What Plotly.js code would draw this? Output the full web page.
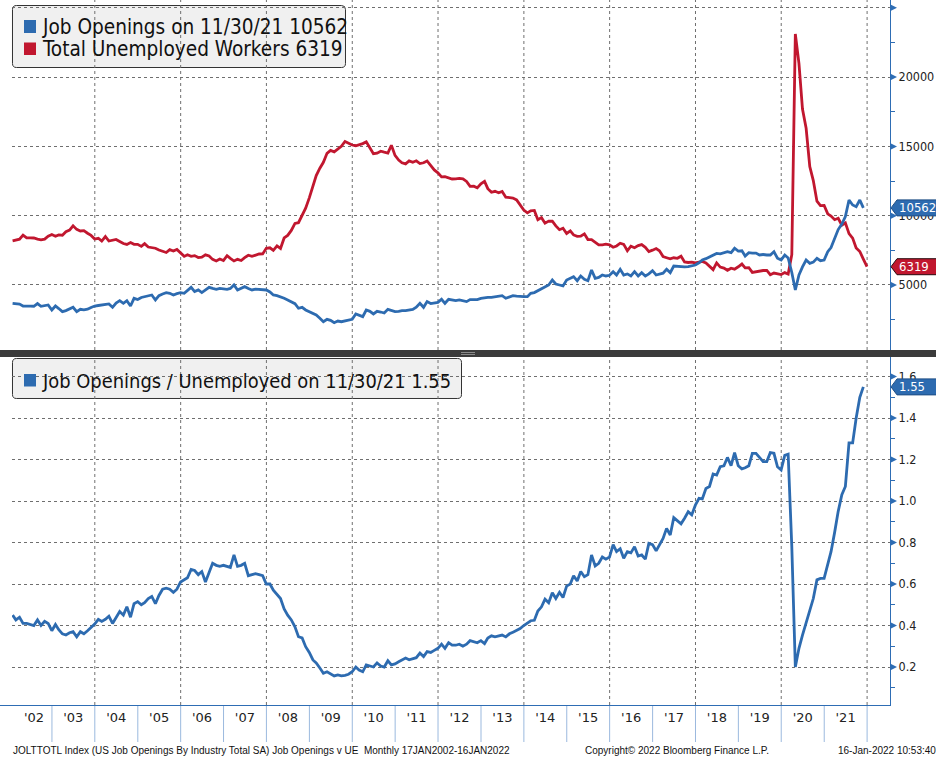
<!DOCTYPE html>
<html><head><meta charset="utf-8">
<script src="https://cdn.plot.ly/plotly-3.0.1.min.js"></script>
<style>html,body{margin:0;padding:0;background:#fff;overflow:hidden}#chart{width:936px;height:761px}</style>
</head><body><div id="chart"></div>
<script>
// ---------------- data (monthly, end of month) ----------------
const startYear = 2002;
const jobOpenings = [
3680,3660,3620,3485,3500,3480,3465,3660,3465,3520,3560,3195,
3485,3300,3075,3150,3250,3390,3075,3245,3200,3250,3380,3485,
3520,3560,3600,3630,3390,3700,3870,3680,3870,3485,4040,3950,
4100,4150,4230,4280,3920,4230,4350,4450,4400,4280,4380,4450,
4400,4600,4830,4520,4640,4450,4650,4830,4750,4690,4760,4700,
4690,4750,5000,4640,4750,4880,4750,4640,4700,4690,4650,4640,
4500,4280,4230,4150,4040,3920,3800,3650,3320,3390,3200,3075,
2950,2835,2600,2350,2525,2450,2280,2400,2350,2400,2450,2525,
2910,2800,2715,3195,3100,2910,3100,3050,2980,3245,3150,3075,
3100,3150,3150,3200,3245,3400,3680,3390,3800,3660,3700,3750,
3970,3680,3970,3900,3870,3920,3870,3800,3950,3970,3950,4040,
4080,4110,4100,4160,4200,4230,4040,4150,4230,4200,4160,4160,
4160,4400,4450,4600,4750,4900,5000,5360,5070,5000,4930,5360,
5500,5600,5310,5650,5410,5310,6080,5480,5550,5720,5650,5700,
5960,5720,6130,5720,5800,5650,5960,5650,5890,5650,5800,6030,
5720,5800,5850,6130,5890,6370,6330,6300,6300,6320,6380,6440,
6600,6800,6900,7040,7150,7280,7240,7350,7400,7330,7650,7450,
7470,7090,7330,7300,7300,7165,7200,7165,7165,7400,6930,6800,
7160,6950,5900,4640,5720,6300,6800,6560,6650,6930,6750,6800,
7400,7700,8370,9000,9400,9930,11130,10770,10650,11130,10562];

const unemployed = [
8182,8215,8304,8599,8399,8393,8390,8304,8251,8307,8520,8640,
8520,8618,8588,8842,8957,9266,9011,8896,8921,8732,8576,8317,
8370,8167,8491,8170,8212,8286,8136,7990,7927,8061,7932,7934,
7784,7980,7737,7672,7651,7524,7406,7345,7553,7453,7566,7279,
7064,7184,7072,7120,6980,7001,7175,7091,6847,6727,6872,6762,
7116,6927,6731,6850,6766,6979,7149,7067,7170,7237,7240,7645,
7685,7497,7822,7637,8395,8575,8937,9438,9494,10074,10538,11286,
12058,12898,13426,13853,14499,14707,14601,14814,15009,15352,15219,15098,
15046,15113,15202,15325,14849,14474,14512,14648,14579,14516,15081,14348,
14013,13820,13737,13957,13855,13962,13763,13818,13948,13594,13302,13093,
12797,12813,12713,12646,12660,12692,12656,12471,12115,12124,12005,12298,
12471,11950,11689,11760,11654,11751,11335,11279,11270,11136,10787,10404,
10202,10349,10380,9702,9859,9460,9608,9599,9262,8990,9090,8717,
8903,8610,8504,8526,8689,8275,8266,8044,7891,7898,7943,7899,
7722,7815,8011,7935,7469,7799,7689,7838,7911,7714,7410,7513,
7631,7468,7051,6968,6884,6964,6928,7075,6668,6625,6653,6588,
6667,6698,6594,6329,6110,6597,6294,6217,6060,6213,6142,6315,
6513,6231,6245,5908,5966,6040,6044,6054,5740,5864,5797,5753,
5892,5787,7185,23109,20975,17697,16308,13542,12535,11049,10728,10736,
10130,9972,9710,9812,9316,9484,8703,8384,7674,7418,6870,6319];

const ratio = [
0.45,0.427,0.44,0.41,0.41,0.405,0.40,0.427,0.40,0.42,0.41,0.375,
0.405,0.38,0.36,0.354,0.365,0.37,0.345,0.37,0.36,0.375,0.39,0.407,
0.43,0.42,0.43,0.445,0.41,0.44,0.467,0.45,0.49,0.44,0.505,0.515,
0.50,0.51,0.53,0.54,0.505,0.545,0.575,0.58,0.575,0.56,0.575,0.61,
0.62,0.63,0.67,0.665,0.645,0.66,0.61,0.66,0.70,0.69,0.685,0.69,
0.685,0.68,0.74,0.685,0.69,0.70,0.64,0.645,0.65,0.645,0.64,0.60,
0.60,0.57,0.547,0.53,0.48,0.45,0.427,0.394,0.346,0.34,0.298,0.27,
0.234,0.22,0.195,0.17,0.177,0.167,0.157,0.162,0.157,0.16,0.165,0.177,
0.20,0.185,0.177,0.21,0.205,0.20,0.22,0.205,0.20,0.23,0.21,0.215,
0.225,0.235,0.243,0.235,0.24,0.245,0.267,0.25,0.274,0.27,0.28,0.29,
0.31,0.29,0.317,0.305,0.305,0.31,0.30,0.31,0.327,0.32,0.317,0.327,
0.313,0.34,0.35,0.345,0.35,0.354,0.345,0.36,0.368,0.378,0.385,0.40,
0.41,0.423,0.425,0.47,0.49,0.527,0.51,0.558,0.53,0.56,0.535,0.59,
0.60,0.64,0.615,0.66,0.635,0.645,0.74,0.687,0.70,0.73,0.72,0.73,
0.79,0.756,0.77,0.724,0.756,0.75,0.78,0.735,0.74,0.72,0.796,0.79,
0.76,0.79,0.82,0.868,0.836,0.92,0.905,0.89,0.917,0.948,0.933,0.98,
1.013,1.01,1.06,1.07,1.13,1.125,1.165,1.17,1.21,1.17,1.233,1.17,
1.155,1.16,1.17,1.23,1.23,1.21,1.19,1.19,1.233,1.23,1.165,1.15,
1.22,1.226,0.78,0.20,0.29,0.354,0.41,0.47,0.53,0.62,0.627,0.627,
0.69,0.756,0.85,0.95,1.03,1.07,1.28,1.28,1.40,1.50,1.55];

// x tick labels sit in the middle of each visible year
const labelDates = ['2002-08-01','2003-07-02','2004-07-02','2005-07-02','2006-07-02','2007-07-02','2008-07-02','2009-07-02','2010-07-02','2011-07-02',
                    '2012-07-02','2013-07-02','2014-07-02','2015-07-02','2016-07-02','2017-07-02','2018-07-02','2019-07-02','2020-07-02','2021-07-02'];
const yearLabels = ["'02","'03","'04","'05","'06","'07","'08","'09","'10","'11","'12","'13","'14","'15","'16","'17","'18","'19","'20","'21"];
const boundaryYears = [2003,2004,2005,2006,2007,2008,2009,2010,2011,2012,2013,2014,2015,2016,2017,2018,2019,2020,2021,2022];
const gridYears = [2004,2006,2008,2010,2012,2014,2016,2018,2020,2022];
const topTicks = [5000,10000,15000,20000,25000];
const topTickText = ['5000','10000','15000','20000',''];
const bottomTicks = [0.2,0.4,0.6,0.8,1.0,1.2,1.4,1.6];
const bottomTickText = ['0.2','0.4','0.6','0.8','1.0','1.2','1.4','1.6'];

// ---------------- helpers ----------------
const W = 936, H = 761;
const px = x => x / W;
const py = y => 1 - y / H;
function monthEnd(i){ const d = new Date(Date.UTC(startYear, i + 1, 0)); return d.toISOString().slice(0,10); }
const datesJO = jobOpenings.map((_, i) => monthEnd(i));
const datesUE = unemployed.map((_, i) => monthEnd(i));
const datesR = ratio.map((_, i) => monthEnd(i));
function mdY(s){ const [y,m,d] = s.split('-'); return m + '/' + d + '/' + y.slice(2); }

const BLUE = '#2d6bb0', RED = '#c1172f', AXIS = '#2e6db4', GRID = '#6f6f6f';
const FONT = '"DejaVu Sans Condensed", "DejaVu Sans", sans-serif';

function roundRect(x0, y0, x1, y1, r){
  const P = (x, y) => px(x).toFixed(5) + ',' + py(y).toFixed(5);
  return 'M' + P(x0 + r, y0) + ' L' + P(x1 - r, y0) + ' Q' + P(x1, y0) + ' ' + P(x1, y0 + r) +
    ' L' + P(x1, y1 - r) + ' Q' + P(x1, y1) + ' ' + P(x1 - r, y1) +
    ' L' + P(x0 + r, y1) + ' Q' + P(x0, y1) + ' ' + P(x0, y1 - r) +
    ' L' + P(x0, y0 + r) + ' Q' + P(x0, y0) + ' ' + P(x0 + r, y0) + ' Z';
}

// ---------------- traces ----------------
const traces = [
  {x: datesUE, y: unemployed, xaxis: 'x2', yaxis: 'y2', type: 'scatter', mode: 'lines',
   line: {color: RED, width: 2.8}, name: 'Total Unemployed Workers', hoverinfo: 'skip'},
  {x: datesJO, y: jobOpenings, xaxis: 'x2', yaxis: 'y2', type: 'scatter', mode: 'lines',
   line: {color: BLUE, width: 2.8}, name: 'Job Openings', hoverinfo: 'skip'},
  {x: datesR, y: ratio, xaxis: 'x', yaxis: 'y', type: 'scatter', mode: 'lines',
   line: {color: BLUE, width: 2.8}, name: 'Job Openings / Unemployed', hoverinfo: 'skip'}
];

// ---------------- shapes ----------------
const shapes = [];
// legend boxes
shapes.push({type: 'path', xref: 'paper', yref: 'paper', layer: 'below', path: roundRect(12.5, 5.5, 345.5, 67.5, 4),
  fillcolor: '#f0f0f0', line: {color: '#333333', width: 1}});
shapes.push({type: 'path', xref: 'paper', yref: 'paper', layer: 'below', path: roundRect(12.5, 358.5, 461.5, 398.5, 4),
  fillcolor: '#f0f0f0', line: {color: '#333333', width: 1}});
// legend squares
[[20, 33, BLUE], [42.5, 55, RED], [374, 386.5, BLUE]].forEach(([a, b, c]) => {
  shapes.push({type: 'rect', xref: 'paper', yref: 'paper', x0: px(24), x1: px(36), y0: py(b), y1: py(a),
    fillcolor: c, line: {width: 0}});
});
// vertical grid (every second year) in both panels
gridYears.forEach(y => {
  shapes.push({type: 'line', xref: 'x', yref: 'paper', x0: y + '-01-01', x1: y + '-01-01',
    y0: py(705), y1: py(357), layer: 'below', line: {color: GRID, width: 1, dash: 'dot'}});
  shapes.push({type: 'line', xref: 'x', yref: 'paper', x0: y + '-01-01', x1: y + '-01-01',
    y0: py(350), y1: 1, layer: 'below', line: {color: GRID, width: 1, dash: 'dot'}});
});
// year boundary tick lines below x axis
boundaryYears.forEach(y => shapes.push({type: 'line', xref: 'x', yref: 'paper', x0: y + '-01-01', x1: y + '-01-01',
  y0: py(706), y1: py(742), line: {color: '#9bb9de', width: 1}}));
// x-axis line extension to left edge
shapes.push({type: 'line', xref: 'paper', yref: 'paper', x0: 0, x1: px(13), y0: py(705.5), y1: py(705.5), line: {color: AXIS, width: 1}});
// separator bar with grip
shapes.push({type: 'rect', xref: 'paper', yref: 'paper', x0: 0, x1: 1, y0: py(357), y1: py(350),
  fillcolor: '#3b3b3b', line: {width: 0}});
shapes.push({type: 'line', xref: 'paper', yref: 'paper', x0: px(461), x1: px(475), y0: py(352.5), y1: py(352.5), line: {color: '#8a8a8a', width: 1}});
shapes.push({type: 'line', xref: 'paper', yref: 'paper', x0: px(461), x1: px(475), y0: py(354.5), y1: py(354.5), line: {color: '#8a8a8a', width: 1}});
// triangle tick markers on right axes
topTicks.forEach(v => shapes.push({type: 'path', xref: 'paper', yref: 'y2', xsizemode: 'pixel', ysizemode: 'pixel',
  xanchor: px(890), yanchor: v, path: 'M0,-3.5 L7,0 L0,3.5 Z', fillcolor: AXIS, line: {width: 0}}));
bottomTicks.forEach(v => shapes.push({type: 'path', xref: 'paper', yref: 'y', xsizemode: 'pixel', ysizemode: 'pixel',
  xanchor: px(890), yanchor: v, path: 'M0,-3.5 L7,0 L0,3.5 Z', fillcolor: AXIS, line: {width: 0}}));
// last value tags
const tag = (yref, v, col, border) => ({type: 'path', xref: 'paper', yref: yref, xsizemode: 'pixel', ysizemode: 'pixel',
  xanchor: px(891), yanchor: v, path: 'M0,0 L6,8 L52,8 L52,-8 L6,-8 Z', fillcolor: col, line: {color: border, width: 1}});
const lastJO = jobOpenings[jobOpenings.length - 1];
const lastUE = unemployed[unemployed.length - 1];
const lastR = ratio[ratio.length - 1];
shapes.push(tag('y2', lastJO, BLUE, '#1f4f86'));
shapes.push(tag('y2', lastUE, RED, '#2a0a0e'));
shapes.push(tag('y', lastR, BLUE, '#1f4f86'));

// ---------------- annotations ----------------
const lastDate = mdY(datesJO[datesJO.length - 1]);
const legFont = {family: FONT, size: 20.6, color: '#111'};
const legFont2 = {family: FONT, size: 19.9, color: '#111'};
const tagFont = {family: FONT, size: 13, color: '#fff'};
const footFont = {family: '"Liberation Sans", Arial, sans-serif', size: 10, color: '#111'};
const annotations = [
  {xref: 'paper', yref: 'paper', x: px(40), y: py(27.3), xanchor: 'left', yanchor: 'middle', showarrow: false,
   text: 'Job Openings on ' + lastDate + ' ' + lastJO, font: legFont},
  {xref: 'paper', yref: 'paper', x: px(40), y: py(48.8), xanchor: 'left', yanchor: 'middle', showarrow: false,
   text: 'Total Unemployed Workers ' + lastUE, font: legFont},
  {xref: 'paper', yref: 'paper', x: px(40), y: py(381), xanchor: 'left', yanchor: 'middle', showarrow: false,
   text: 'Job Openings / Unemployed on ' + lastDate + ' ' + lastR.toFixed(2), font: legFont2},
  {xref: 'paper', yref: 'y2', x: px(897), y: lastJO, xanchor: 'left', yanchor: 'middle', showarrow: false,
   text: String(lastJO), font: tagFont},
  {xref: 'paper', yref: 'y2', x: px(897), y: lastUE, xanchor: 'left', yanchor: 'middle', showarrow: false,
   text: String(lastUE), font: tagFont},
  {xref: 'paper', yref: 'y', x: px(897), y: lastR, xanchor: 'left', yanchor: 'middle', showarrow: false,
   text: lastR.toFixed(2), font: tagFont},
  {xref: 'paper', yref: 'paper', x: px(11), y: py(750), xanchor: 'left', yanchor: 'middle', showarrow: false,
   text: 'JOLTTOTL Index (US Job Openings By Industry Total SA) Job Openings v UE\u00a0 Monthly 17JAN2002-16JAN2022', font: footFont},
  {xref: 'paper', yref: 'paper', x: px(583), y: py(750), xanchor: 'left', yanchor: 'middle', showarrow: false,
   text: 'Copyright\u00a9 2022 Bloomberg Finance L.P.', font: footFont},
  {xref: 'paper', yref: 'paper', x: px(836), y: py(750), xanchor: 'left', yanchor: 'middle', showarrow: false,
   text: '16-Jan-2022 10:53:40', font: footFont}
];

// ---------------- layout ----------------
const xDomain = [px(12), px(890)];
const xRange = ['2002-01-26', '2022-07-15'];
const yTickFont = {family: FONT, size: 12.5, color: '#222'};
const layout = {
  width: W, height: H, margin: {l: 0, r: 0, t: 0, b: 0, pad: 0},
  paper_bgcolor: '#ffffff', plot_bgcolor: 'rgba(0,0,0,0)', showlegend: false,
  font: {family: FONT, size: 13, color: '#222'},
  xaxis: {domain: xDomain, anchor: 'y', type: 'date', range: xRange,
    tickmode: 'array', tickvals: labelDates, ticktext: yearLabels,
    ticks: '', showgrid: false, zeroline: false, showline: true, linecolor: AXIS, linewidth: 1,
    tickfont: {family: '"DejaVu Sans", sans-serif', size: 13, color: '#222'}},
  xaxis2: {domain: xDomain, anchor: 'y2', type: 'date', range: xRange,
    showticklabels: false, ticks: '', showgrid: false, zeroline: false, showline: false},
  yaxis: {domain: [py(705), py(357)], anchor: 'x', side: 'right', range: [0.0169, 1.694],
    tickmode: 'array', tickvals: bottomTicks, ticktext: bottomTickText,
    ticks: 'outside', ticklen: 5, tickcolor: 'rgba(0,0,0,0)',
    showgrid: true, gridcolor: GRID, griddash: 'dot', gridwidth: 1, zeroline: false,
    showline: true, linecolor: AXIS, linewidth: 1,
    minor: {tickmode: 'linear', tick0: 0, dtick: 0.1, ticks: 'outside', ticklen: 4, tickcolor: AXIS, showgrid: false},
    tickfont: yTickFont},
  yaxis2: {domain: [py(350), 1], anchor: 'x2', side: 'right', range: [310, 25560],
    tickmode: 'array', tickvals: topTicks, ticktext: topTickText,
    ticks: 'outside', ticklen: 5, tickcolor: 'rgba(0,0,0,0)',
    showgrid: true, gridcolor: GRID, griddash: 'dot', gridwidth: 1, zeroline: false,
    showline: true, linecolor: AXIS, linewidth: 1,
    minor: {tickmode: 'linear', tick0: 0, dtick: 2500, ticks: 'outside', ticklen: 4, tickcolor: AXIS, showgrid: false},
    tickfont: yTickFont},
  shapes: shapes, annotations: annotations
};

Plotly.newPlot('chart', traces, layout, {displayModeBar: false, staticPlot: true});
</script></body></html>
